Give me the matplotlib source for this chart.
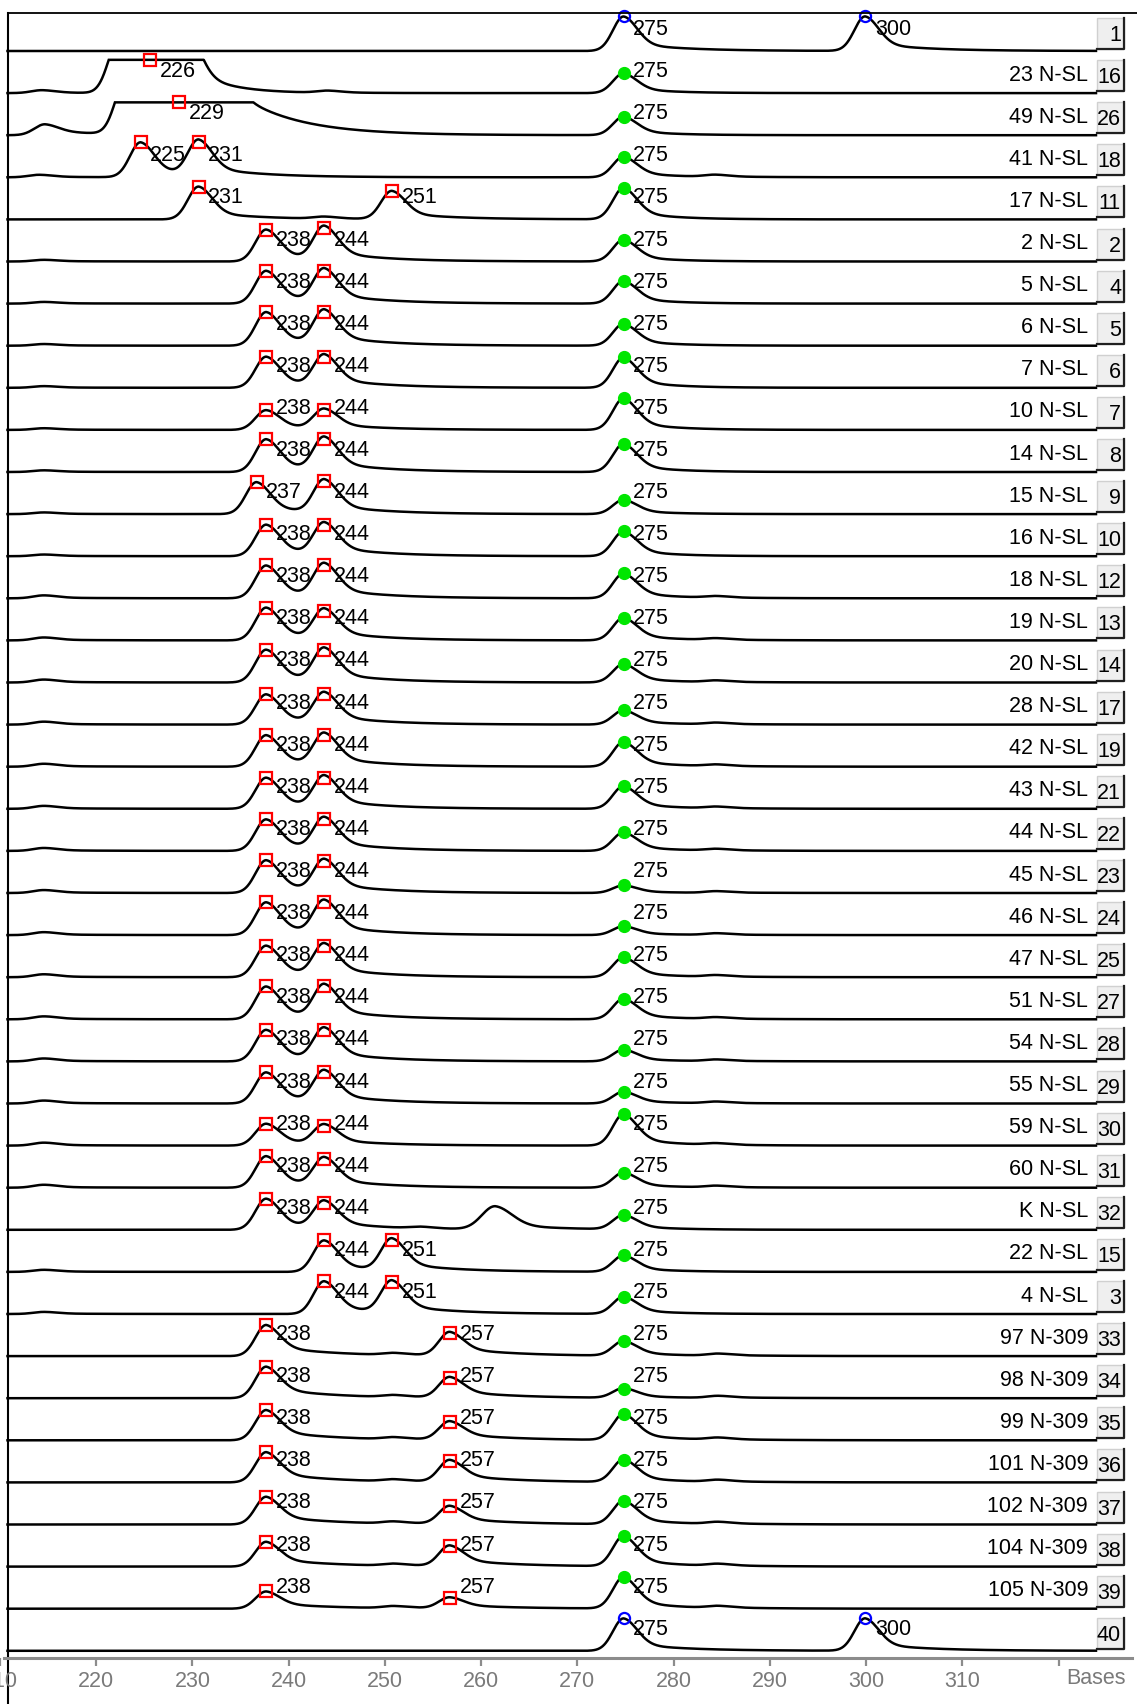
import numpy as np
import matplotlib.pyplot as plt
from matplotlib.patches import Rectangle

plt.rcParams['font.family'] = ['Liberation Sans', 'DejaVu Sans']

# %% data (heights are in fractions of one lane)
lane_names = ["", "23 N-SL", "49 N-SL", "41 N-SL", "17 N-SL", "2 N-SL", "5 N-SL", "6 N-SL",
              "7 N-SL", "10 N-SL", "14 N-SL", "15 N-SL", "16 N-SL", "18 N-SL", "19 N-SL",
              "20 N-SL", "28 N-SL", "42 N-SL", "43 N-SL", "44 N-SL", "45 N-SL", "46 N-SL",
              "47 N-SL", "51 N-SL", "54 N-SL", "55 N-SL", "59 N-SL", "60 N-SL", "K N-SL",
              "22 N-SL", "4 N-SL", "97 N-309", "98 N-309", "99 N-309", "101 N-309",
              "102 N-309", "104 N-309", "105 N-309", ""]
lane_ids = [1, 16, 26, 18, 11, 2, 4, 5, 6, 7, 8, 9, 10, 12, 13, 14, 17, 19, 21, 22, 23, 24,
            25, 27, 28, 29, 30, 31, 32, 15, 3, 33, 34, 35, 36, 37, 38, 39, 40]

allele_sizes = ([[275, 300], [226], [229], [225, 231], [231, 251]]
                + [[238, 244]] * 6 + [[237, 244]] + [[238, 244]] * 17
                + [[244, 251]] * 2 + [[238, 257]] * 7 + [[275, 300]])
allele_heights = [
    [0.82, 0.82], [0.79], [0.78], [0.83, 0.83], [0.78, 0.67],
    [0.76, 0.79], [0.78, 0.78], [0.80, 0.80], [0.74, 0.74], [0.47, 0.47], [0.78, 0.78],
    [0.76, 0.78], [0.75, 0.75], [0.78, 0.78], [0.78, 0.70], [0.78, 0.77], [0.72, 0.72],
    [0.75, 0.75], [0.74, 0.74], [0.75, 0.75], [0.78, 0.75], [0.78, 0.78], [0.75, 0.75],
    [0.78, 0.78], [0.75, 0.75], [0.74, 0.74], [0.52, 0.47], [0.75, 0.67], [0.74, 0.64],
    [0.75, 0.75], [0.78, 0.75],
    [0.74, 0.56], [0.75, 0.49], [0.72, 0.44], [0.72, 0.52], [0.66, 0.43], [0.59, 0.49],
    [0.41, 0.26], [0.77, 0.77]]

# internal 275 standard (green dot) in the sample lanes
std_heights = [None, 0.47, 0.44, 0.49, 0.75, 0.52, 0.54, 0.52, 0.72, 0.75, 0.67, 0.34,
               0.59, 0.59, 0.54, 0.44, 0.34, 0.59, 0.54, 0.44, 0.18, 0.21, 0.47, 0.49,
               0.28, 0.28, 0.75, 0.36, 0.34, 0.39, 0.41, 0.35, 0.23, 0.62, 0.54, 0.56,
               0.72, 0.75, None]

# unlabeled bumps / saturated fill (position, height, width factor)
bumps = ([[], [(214.8, 0.07, 1), (222.8, 1.3, 1), (226.5, 1.3, 1), (229.7, 1.3, 1), (244.4, 0.05, 1)],
          [(215.1, 0.26, 1), (223.5, 1.3, 1), (226.8, 1.3, 1), (230.0, 1.3, 1), (233.2, 1.3, 1)],
          [(214.5, 0.06, 1), (284.5, 0.05, 1)], [(244.0, 0.05, 1)]]
         + [[(215.0, 0.04, 1)]] * 8 + [[(215.0, 0.07, 1), (284.6, 0.04, 1)]] * 15
         + [[(261.7, 0.55, 1.25), (254.0, 0.04, 1)]] + [[(215.0, 0.05, 1)]] * 2
         + [[(251.2, 0.05, 1), (284.8, 0.05, 1)]] * 7 + [[]])
clip_level = {1: 0.79, 2: 0.78}
tails = {1: (0.3, 3.5), 2: (0.42, 6.0), 31: (0.35, 6.0), 32: (0.35, 6.0), 33: (0.35, 6.0),
         34: (0.35, 6.0), 35: (0.35, 6.0), 36: (0.35, 6.0), 37: (0.35, 6.0)}

# %% geometry (pixels of the 1137x1704 output)
W, H = 1137, 1704
PPB = 9.66              # pixels per base
X0 = 220 - 92.3 / PPB   # base at the left figure edge
GAP = 42.1              # pixels between lane baselines
Y1 = 51.0               # first baseline, pixels from top


def px_x(p):
    return X0 + p / PPB


def px_dy(p):
    return p / GAP


def peak(x, p, h, sl=1.1, sr=1.4, tail=0.25, tau=5.5):
    d = x - p
    left = np.exp(-0.5 * (d / sl) ** 2)
    right = (1 - tail) * np.exp(-0.5 * (d / sr) ** 2) + tail * np.exp(-np.clip(d, 0, None) / tau)
    return h * np.where(d < 0, left, right)


fig = plt.figure(figsize=(W / 100, H / 100), dpi=100)
ax = fig.add_axes([0, 0, 1, 1])
ax.set_xlim(X0, X0 + W / PPB)
ax.set_ylim(-(H - Y1) / GAP, Y1 / GAP)
ax.axis("off")

FS = 15.5
x = np.linspace(px_x(7.5), px_x(1096), 3000)
for i, name in enumerate(lane_names):
    base = -i
    tail, tau = tails.get(i, (0.25, 5.5))
    sig = np.zeros_like(x)
    for p, h in zip(allele_sizes[i], allele_heights[i]):
        sig += peak(x, p, h, tail=tail, tau=tau)
    for p, h, w in bumps[i]:
        sig += peak(x, p, h, sl=1.1 * w, sr=1.4 * w, tail=tail, tau=tau)
    if std_heights[i] is not None:
        sig += peak(x, 275, std_heights[i], tail=0.3, tau=4.0)
    if i in clip_level:
        sig = np.minimum(sig, clip_level[i])
    ax.plot(x, base + sig, color="black", lw=1.8, solid_joinstyle="miter", zorder=2)

    std_lane = std_heights[i] is None
    for p, h in zip(allele_sizes[i], allele_heights[i]):
        if std_lane:
            ax.plot(p, base + h, "o", ms=8, mfc="none", mec="#0000ff", mew=1.6, zorder=3)
        else:
            ax.plot(p, base + h, "s", ms=8.5, mfc="none", mec="#ff0000", mew=1.6, zorder=3)
        ax.text(p + 1.0, base + px_dy(21.5), str(p), fontsize=FS, ha="left", va="center", zorder=4)
    if not std_lane:
        ax.plot(275, base + std_heights[i], "o", ms=8.5, color="#00e600", zorder=3)
        ax.text(276.0, base + px_dy(21.5), "275", fontsize=FS, ha="left", va="center", zorder=4)

    if name:
        ax.text(px_x(1088), base + px_dy(18), name, fontsize=FS, ha="right", va="center")
    # lane number button
    bx, by, bw, bh = px_x(1097), base + px_dy(2), 27 / PPB, px_dy(31)
    ax.add_patch(Rectangle((bx, by), bw, bh, facecolor="#efefef", edgecolor="#d0d0d0", lw=1, zorder=3))
    ax.plot([bx, bx + bw, bx + bw], [by, by, by + bh], color="#202020", lw=1.6, zorder=4)
    ax.text(px_x(1121), by + bh / 2 - px_dy(2), str(lane_ids[i]), fontsize=FS,
            ha="right", va="center", zorder=5)

# frame
ytop = (Y1 - 13) / GAP
ax.plot([px_x(7.5), px_x(W)], [ytop, ytop], color="black", lw=1.3, zorder=5)
ax.plot([px_x(7.5), px_x(7.5)], [ytop, -(H - Y1) / GAP], color="black", lw=1.5, zorder=5)

# size axis
ax_x = fig.add_axes([0, 1 - 1658 / H, 1, 1e-5])
ax_x.set_xlim(X0, X0 + W / PPB)
ax_x.set_yticks([])
for s in ["left", "right", "top"]:
    ax_x.spines[s].set_visible(False)
ax_x.spines["bottom"].set_color("#8c8c8c")
ax_x.spines["bottom"].set_linewidth(2.2)
ax_x.spines["bottom"].set_bounds(X0, px_x(1132))
ticks = list(range(210, 330, 10))
ax_x.set_xticks(ticks, [str(t) if t < 320 else "" for t in ticks])
ax_x.tick_params(axis="x", direction="out", length=5.5, width=1.6, color="#8c8c8c",
                 labelcolor="#7a7a7a", labelsize=FS, pad=4)
ax_x.patch.set_visible(False)
ax.text(px_x(1126), -(1679 - Y1) / GAP, "Bases", fontsize=FS, color="#7a7a7a",
        ha="right", va="center")

fig.savefig("out.png", dpi=100)
